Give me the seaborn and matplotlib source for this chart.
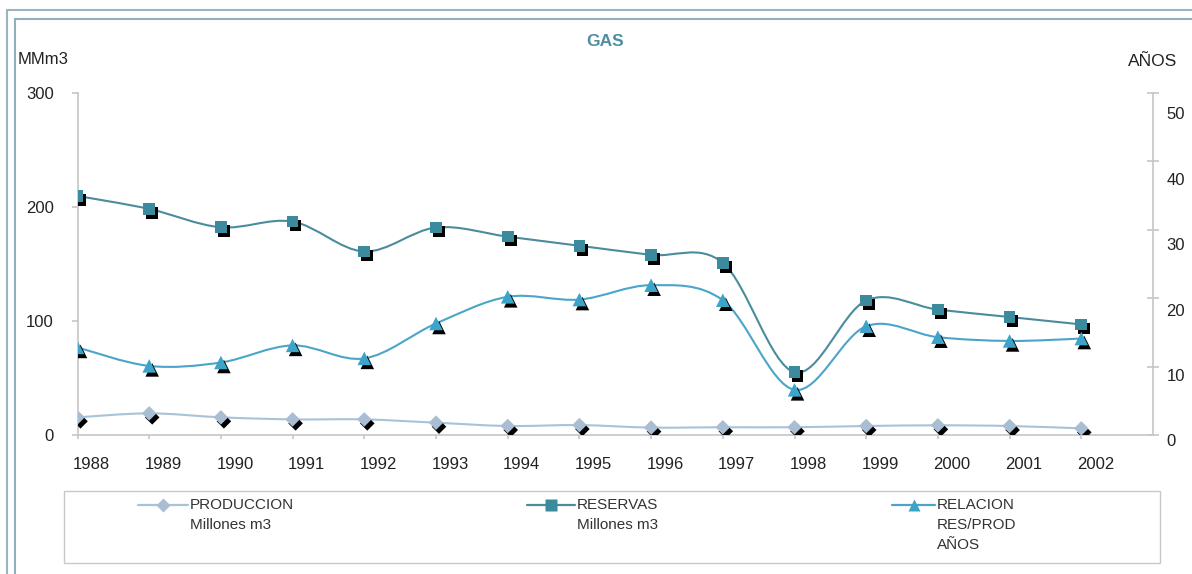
import matplotlib
matplotlib.use("Agg")
import matplotlib.pyplot as plt
import seaborn as sns
from matplotlib.path import Path
from matplotlib.patches import PathPatch, Rectangle
from matplotlib.lines import Line2D
from matplotlib.transforms import offset_copy, ScaledTranslation, blended_transform_factory

# Data
years = [1988, 1989, 1990, 1991, 1992, 1993, 1994, 1995, 1996, 1997, 1998, 1999, 2000, 2001, 2002]
produccion = [15.5, 19.0, 15.5, 13.7, 13.7, 10.8, 7.9, 8.7, 6.5, 6.8, 6.8, 7.9, 8.5, 7.9, 5.8]
reservas = [209.7, 198.3, 182.2, 187.2, 161.0, 182.0, 174.0, 166.0, 158.0, 151.0, 55.0, 118.0, 110.0, 103.5, 97.0]
relacion = [12.8, 10.1, 10.6, 13.1, 11.2, 16.3, 20.2, 19.8, 21.9, 19.7, 6.6, 15.9, 14.3, 13.75, 14.1]

left_ticks = [0, 100, 200, 300]
right_ticks = [0, 10, 20, 30, 40, 50]

c_prod = "#a9bdd3"
c_prod_line = "#a8c2d6"
c_res = "#3b8a9e"
c_res_line = "#4a8c9c"
c_rel = "#3ca3c9"
c_rel_line = "#4aa5c8"
gray = "#c8c8c8"
txt = "#222222"

sns.set_theme(style="white")
plt.rcParams['font.family'] = ['Liberation Sans', 'DejaVu Sans']

W, H = 1192, 574
fig = plt.figure(figsize=(W / 100, H / 100), dpi=100)
ax = fig.add_axes([77.5 / W, 1 - 435 / H, (1153 - 77.5) / W, (435 - 93) / H])
ax2 = ax.twinx()


def smooth(xs, ys):
    # excel style smoothed line (catmull-rom as bezier)
    n = len(xs)
    verts = [(xs[0], ys[0])]
    codes = [Path.MOVETO]
    for i in range(n - 1):
        x0, y0 = xs[max(i - 1, 0)], ys[max(i - 1, 0)]
        x1, y1 = xs[i], ys[i]
        x2, y2 = xs[i + 1], ys[i + 1]
        x3, y3 = xs[min(i + 2, n - 1)], ys[min(i + 2, n - 1)]
        verts += [(x1 + (x2 - x0) / 6, y1 + (y2 - y0) / 6),
                  (x2 - (x3 - x1) / 6, y2 - (y3 - y1) / 6),
                  (x2, y2)]
        codes += [Path.CURVE4] * 3
    return Path(verts, codes)


def series(axis, ys, color, line_color, marker, size):
    axis.add_patch(PathPatch(smooth(years, ys), fill=False, edgecolor=line_color, lw=1.5, zorder=2))
    shadow = offset_copy(axis.transData, fig=fig, x=3, y=-4, units='dots')
    sns.scatterplot(x=years, y=ys, marker=marker, s=size, color="black", edgecolor="none",
                    ax=axis, transform=shadow, zorder=3, legend=False)
    sns.scatterplot(x=years, y=ys, marker=marker, s=size, color=color, edgecolor="none",
                    ax=axis, zorder=4, legend=False)


series(ax, produccion, c_prod, c_prod_line, "D", 55)
series(ax, reservas, c_res, c_res_line, "s", 70)
series(ax2, relacion, c_rel, c_rel_line, "^", 95)

ax.set_xlim(1988, 2003)
ax.set_ylim(0, 300)
ax2.set_ylim(0, 50)

# spines
for a in (ax, ax2):
    for s in a.spines.values():
        s.set_visible(False)
ax.spines['left'].set_visible(True)
ax.spines['bottom'].set_visible(True)
ax.spines['left'].set_color(gray)
ax.spines['bottom'].set_color(gray)
ax2.spines['right'].set_visible(True)
ax2.spines['right'].set_color(gray)

ax.set_xticks(years)
ax.set_xticklabels([str(y) for y in years], fontsize=12, color=txt)
ax.tick_params(axis='x', length=3, color=gray, pad=13, bottom=True)
for lab in ax.get_xticklabels():
    lab.set_transform(lab.get_transform() + ScaledTranslation(0.14, 0, fig.dpi_scale_trans))

ax.set_yticks(left_ticks)
ax.set_yticklabels([str(t) for t in left_ticks], fontsize=12, color=txt)
ax.tick_params(axis='y', length=4, color=gray, pad=13, left=True)

ax2.set_yticks(right_ticks)
ax2.set_yticklabels([])
ax2.tick_params(axis='y', length=9, direction='inout', color=gray, right=True)
# right labels sit a bit below their ticks, as in the original
tr = blended_transform_factory(ax2.transAxes, ax2.transData)
for i, t in enumerate(right_ticks):
    ax2.text(1.0125, -1.0 + i * 9.56, str(t), transform=tr, fontsize=12, color=txt,
             ha='left', va='center', clip_on=False)

ax.set_xlabel("")
ax.set_ylabel("")
ax2.set_ylabel("")

# texts
fig.text(605 / W, 1 - 42 / H, "GAS", fontsize=12.5, fontweight='bold', color="#4d8ea0",
         ha='center', va='center')
fig.text(18 / W, 1 - 60 / H, "MMm3", fontsize=12, color=txt, ha='left', va='center')
fig.text(1128 / W, 1 - 62 / H, "AÑOS", fontsize=12.5, color=txt, ha='left', va='center')

# frame
fig.add_artist(Rectangle((7 / W, -0.1), 2, 1.1 - 10 / H, transform=fig.transFigure,
                         fill=False, edgecolor="#9ab5c0", lw=1.5))
fig.add_artist(Rectangle((15 / W, -0.1), 2, 1.1 - 19 / H, transform=fig.transFigure,
                         fill=False, edgecolor="#8fb0bc", lw=1.5))

# legend box
fig.add_artist(Rectangle((64 / W, 1 - 563 / H), (1160 - 64) / W, 72 / H, transform=fig.transFigure,
                         fill=False, edgecolor=gray, lw=1))
entries = [
    (138, 188, c_prod_line, c_prod, "D", 7, "PRODUCCION\nMillones m3"),
    (527, 575, c_res_line, c_res, "s", 8, "RESERVAS\nMillones m3"),
    (892, 935, c_rel_line, c_rel, "^", 9, "RELACION\nRES/PROD\nAÑOS"),
]
ly = 1 - 505 / H
for x0, x1, lc, mc, mk, ms, label in entries:
    fig.add_artist(Line2D([x0 / W, x1 / W], [ly, ly], transform=fig.transFigure, color=lc, lw=1.6))
    fig.add_artist(Line2D([(x0 + x1) / 2 / W], [ly], transform=fig.transFigure, marker=mk,
                          markersize=ms, color=mc, markeredgecolor='none', lw=0))
    fig.text((x1 + 2) / W, 1 - 498 / H, label, fontsize=11, color="#333333", ha='left', va='top',
             linespacing=1.55)

fig.savefig("out.png", dpi=100)
